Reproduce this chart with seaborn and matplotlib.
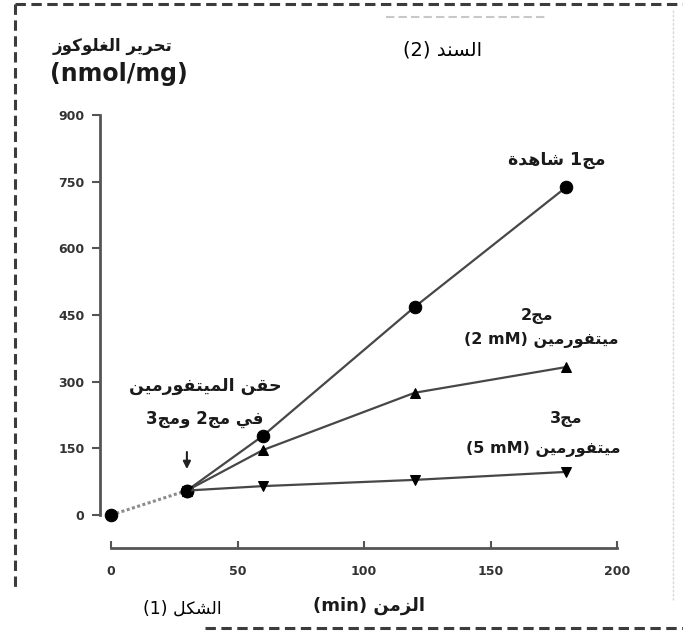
import re
import pandas as pd
import seaborn as sns
import matplotlib.pyplot as plt
from matplotlib.lines import Line2D

# values (glucose release, nmol/mg)
time_base = [0, 30]
glucose_base = [0, 55]
time = [30, 60, 120, 180]
control = [55, 178, 468, 738]
met_2mM = [55, 146, 275, 333]
met_5mM = [55, 65, 79, 97]
groups = ['مج1', 'مج2', 'مج3']
x_ticks = [0, 50, 100, 150, 200]
y_ticks = [0, 150, 300, 450, 600, 750, 900]

# small arabic shaper: matplotlib has no text shaping / bidi
FORMS = {  # isolated, final, initial, medial
    'ا': ('\ufe8d', '\ufe8e', None, None),
    'ة': ('\ufe93', '\ufe94', None, None),
    'ت': ('\ufe95', '\ufe96', '\ufe97', '\ufe98'),
    'ج': ('\ufe9d', '\ufe9e', '\ufe9f', '\ufea0'),
    'ح': ('\ufea1', '\ufea2', '\ufea3', '\ufea4'),
    'د': ('\ufea9', '\ufeaa', None, None),
    'ر': ('\ufead', '\ufeae', None, None),
    'ز': ('\ufeaf', '\ufeb0', None, None),
    'س': ('\ufeb1', '\ufeb2', '\ufeb3', '\ufeb4'),
    'ش': ('\ufeb5', '\ufeb6', '\ufeb7', '\ufeb8'),
    'غ': ('\ufecd', '\ufece', '\ufecf', '\ufed0'),
    'ف': ('\ufed1', '\ufed2', '\ufed3', '\ufed4'),
    'ق': ('\ufed5', '\ufed6', '\ufed7', '\ufed8'),
    'ك': ('\ufed9', '\ufeda', '\ufedb', '\ufedc'),
    'ل': ('\ufedd', '\ufede', '\ufedf', '\ufee0'),
    'م': ('\ufee1', '\ufee2', '\ufee3', '\ufee4'),
    'ن': ('\ufee5', '\ufee6', '\ufee7', '\ufee8'),
    'ه': ('\ufee9', '\ufeea', '\ufeeb', '\ufeec'),
    'و': ('\ufeed', '\ufeee', None, None),
    'ي': ('\ufef1', '\ufef2', '\ufef3', '\ufef4'),
}


def shape(word):
    out = []
    for i, ch in enumerate(word):
        f = FORMS.get(ch)
        if f is None:
            out.append(ch)
            continue
        prev = word[i - 1] if i > 0 else ''
        nxt = word[i + 1] if i + 1 < len(word) else ''
        p = prev in FORMS and FORMS[prev][2] is not None
        n = nxt in FORMS and f[2] is not None
        out.append(f[3] if p and n else f[1] if p else f[2] if n else f[0])
    return ''.join(out)


def rtl(s):
    runs = re.findall(r'[\u0600-\u06ff]+(?: +[\u0600-\u06ff]+)*'
                      r'|[^\u0600-\u06ff ]+(?: +[^\u0600-\u06ff ]+)*| +', s)
    return ''.join(shape(r)[::-1] if re.match('[\u0600-\u06ff]', r) else r
                   for r in reversed(runs))


sns.set_style('ticks')
plt.rcParams['font.family'] = ['DejaVu Sans']

W, H = 683, 631
fig = plt.figure(figsize=(W / 100, H / 100), dpi=100)
ax = fig.add_axes([111 / W, (H - 515) / H, 506 / W, 400 / H])

df = pd.DataFrame({
    'time': time * 3,
    'glucose': control + met_2mM + met_5mM,
    'group': [g for g in groups for _ in time],
})

# shared segment before the injection
sns.lineplot(x=time_base, y=glucose_base, ax=ax, color='#8c8c8c', lw=2.2,
             linestyle=(0, (1, 0.8)), marker='o', ms=9, mfc='black',
             mec='black', clip_on=False)

sns.lineplot(data=df, x='time', y='glucose', hue='group', style='group',
             markers={'مج1': 'o', 'مج2': '^', 'مج3': 'v'}, dashes=False,
             palette=['#474747'] * 3, legend=False, ax=ax, lw=1.6,
             mfc='black', mec='black', clip_on=False, estimator=None)
for line in ax.lines[1:]:
    line.set_markersize(9 if line.get_marker() == 'o' else 7.5)

ax.set_xlim(0, 200)
ax.set_ylim(0, 900)
ax.set_xticks(x_ticks)
ax.set_yticks(y_ticks)
ax.set_xlabel('')
ax.set_ylabel('')
sns.despine(ax=ax, offset={'left': 8, 'bottom': 24}, trim=True)
for side in ['left', 'bottom']:
    ax.spines[side].set_color('#555555')
    ax.spines[side].set_linewidth(2)
ax.tick_params(axis='y', direction='out', length=6, width=1.5, pad=5,
               labelsize=9, color='#555555', labelcolor='#333333')
ax.tick_params(axis='x', direction='in', length=5, width=1.5, pad=12,
               labelsize=9, color='#555555', labelcolor='#333333')
for lbl in ax.get_xticklabels() + ax.get_yticklabels():
    lbl.set_fontweight('bold')

# injection arrow
ax.annotate('', xy=(30, 97), xytext=(30, 148),
            arrowprops=dict(arrowstyle='-|>', color='#222222', lw=1.5,
                            mutation_scale=11), annotation_clip=False)


def ftext(x, y, s, **kw):
    kw.setdefault('ha', 'center')
    kw.setdefault('va', 'center')
    fig.text(x / W, 1 - y / H, s, **kw)


bold = dict(fontweight='bold', color='#1a1a1a')
ftext(113, 46, rtl('تحرير الغلوكوز'), fontsize=12, **bold)
ftext(119, 74, '(nmol/mg)', fontsize=17, **bold)
ftext(443, 50, rtl('السند (2)'), fontsize=14, color='black')
ftext(557, 160, rtl('مج1 شاهدة'), fontsize=12.5, **bold)
ftext(537, 316, rtl('مج2'), fontsize=11.5, **bold)
ftext(541, 340, rtl('ميتفورمين (2 mM)'), fontsize=11.5, **bold)
ftext(566, 419, rtl('مج3'), fontsize=11.5, **bold)
ftext(543, 449, rtl('ميتفورمين (5 mM)'), fontsize=11.5, **bold)
ftext(205, 386, rtl('حقن الميتفورمين'), fontsize=12.5, **bold)
ftext(205, 419, rtl('في مج2 ومج3'), fontsize=12, **bold)
ftext(369, 606, rtl('الزمن (min)'), fontsize=13, **bold)
ftext(182, 609, rtl('الشكل (1)'), fontsize=12.5, color='black')

# dashed frame around the document
dash = dict(transform=fig.transFigure, color='#3c3c3c', lw=2.2,
            linestyle=(0, (3.4, 1.8)))
fig.add_artist(Line2D([15 / W, 1], [1 - 4 / H] * 2, **dash))
fig.add_artist(Line2D([15 / W] * 2, [1 - 4 / H, 1 - 588 / H], **dash))
fig.add_artist(Line2D([205 / W, 1], [1 - 628 / H] * 2, **dash))
fig.add_artist(Line2D([386 / W, 545 / W], [1 - 17 / H] * 2,
                      transform=fig.transFigure, color='#c8c8c8', lw=1.5,
                      linestyle=(0, (4, 2))))
fig.add_artist(Line2D([673 / W] * 2, [1 - 10 / H, 1 - 600 / H],
                      transform=fig.transFigure, color='#d8d8d8', lw=1,
                      linestyle=(0, (2, 1))))

fig.savefig('out.png', dpi=100)
